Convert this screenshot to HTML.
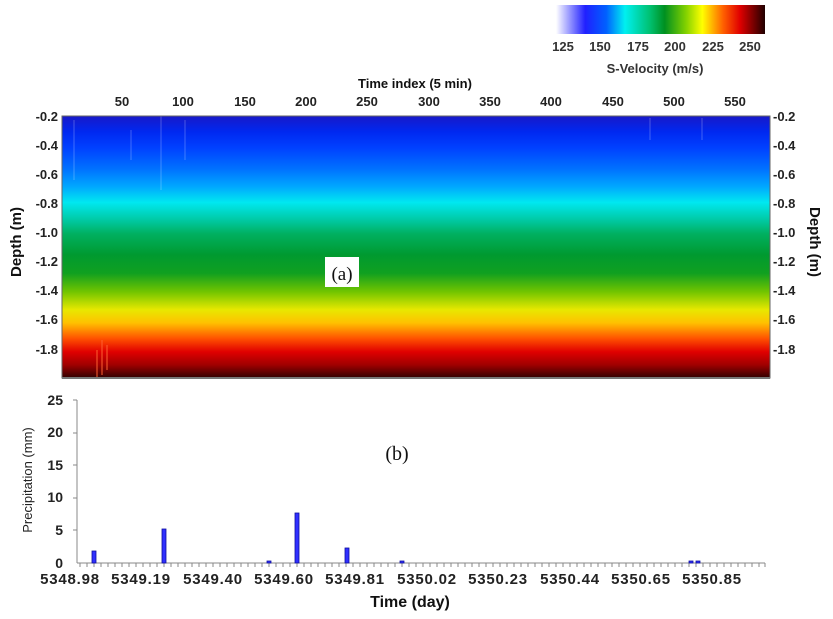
<!DOCTYPE html>
<html><head><meta charset="utf-8"><style>
body{margin:0;background:#fff;}
svg text{font-family:"Liberation Sans",Arial,sans-serif;}
</style></head><body>
<svg width="833" height="614" viewBox="0 0 833 614" xmlns="http://www.w3.org/2000/svg">
<defs>
<linearGradient id="cb" x1="0" y1="0" x2="1" y2="0">
<stop offset="0" stop-color="#ffffff"/>
<stop offset="0.14" stop-color="#2020ff"/>
<stop offset="0.24" stop-color="#0060ff"/>
<stop offset="0.33" stop-color="#00f0f0"/>
<stop offset="0.45" stop-color="#00c070"/>
<stop offset="0.52" stop-color="#009020"/>
<stop offset="0.62" stop-color="#80d000"/>
<stop offset="0.7" stop-color="#ffff00"/>
<stop offset="0.8" stop-color="#ff6000"/>
<stop offset="0.88" stop-color="#e00000"/>
<stop offset="1" stop-color="#200000"/>
</linearGradient>
<linearGradient id="hm" x1="0" y1="0" x2="0" y2="1">
<stop offset="0" stop-color="#1818c8"/>
<stop offset="0.06" stop-color="#0028f0"/>
<stop offset="0.12" stop-color="#0040ff"/>
<stop offset="0.2" stop-color="#0070ff"/>
<stop offset="0.27" stop-color="#00a8ff"/>
<stop offset="0.33" stop-color="#00e8f0"/>
<stop offset="0.4" stop-color="#00c8a0"/>
<stop offset="0.45" stop-color="#00b060"/>
<stop offset="0.53" stop-color="#009a30"/>
<stop offset="0.6" stop-color="#10a020"/>
<stop offset="0.67" stop-color="#70c400"/>
<stop offset="0.74" stop-color="#e8e800"/>
<stop offset="0.79" stop-color="#ffc000"/>
<stop offset="0.85" stop-color="#ff5000"/>
<stop offset="0.9" stop-color="#e00000"/>
<stop offset="0.95" stop-color="#a00000"/>
<stop offset="1" stop-color="#300000"/>
</linearGradient>
</defs>
<!-- colorbar -->
<rect x="556" y="5" width="209" height="29" fill="url(#cb)"/>
<g fill="#333" font-size="13" font-weight="bold" text-anchor="middle">
<text x="563" y="51">125</text><text x="600" y="51">150</text><text x="638" y="51">175</text>
<text x="675" y="51">200</text><text x="713" y="51">225</text><text x="750" y="51">250</text>
<text x="655" y="73">S-Velocity (m/s)</text>
</g>
<!-- heatmap -->
<text x="415" y="88" font-size="13" font-weight="bold" text-anchor="middle" fill="#111">Time index (5 min)</text>
<g fill="#222" font-size="13" font-weight="bold" text-anchor="middle">
<text x="122" y="106">50</text><text x="183" y="106">100</text><text x="245" y="106">150</text>
<text x="306" y="106">200</text><text x="367" y="106">250</text><text x="429" y="106">300</text>
<text x="490" y="106">350</text><text x="551" y="106">400</text><text x="613" y="106">450</text>
<text x="674" y="106">500</text><text x="735" y="106">550</text>
</g>
<rect x="62" y="116" width="708" height="262" fill="url(#hm)"/>
<g opacity="0.25" stroke="#fff" stroke-width="1">
<line x1="74" y1="120" x2="74" y2="180"/><line x1="131" y1="130" x2="131" y2="160"/>
<line x1="161" y1="116" x2="161" y2="190"/><line x1="185" y1="120" x2="185" y2="160"/>
<line x1="650" y1="118" x2="650" y2="140"/><line x1="702" y1="118" x2="702" y2="140"/>
</g>
<g stroke="#ff6030" stroke-width="2" opacity="0.5">
<line x1="97" y1="350" x2="97" y2="378"/><line x1="102" y1="340" x2="102" y2="375"/><line x1="107" y1="345" x2="107" y2="370"/>
</g>
<rect x="62" y="116" width="708" height="262" fill="none" stroke="#666" stroke-width="1"/>
<line x1="62" y1="378" x2="770" y2="378" stroke="#777" stroke-width="2"/>
<g fill="#222" font-size="13" font-weight="bold">
<g text-anchor="end">
<text x="58" y="121">-0.2</text><text x="58" y="150">-0.4</text><text x="58" y="179">-0.6</text>
<text x="58" y="208">-0.8</text><text x="58" y="237">-1.0</text><text x="58" y="266">-1.2</text>
<text x="58" y="295">-1.4</text><text x="58" y="324">-1.6</text><text x="58" y="354">-1.8</text>
</g>
<text x="773" y="121">-0.2</text><text x="773" y="150">-0.4</text><text x="773" y="179">-0.6</text>
<text x="773" y="208">-0.8</text><text x="773" y="237">-1.0</text><text x="773" y="266">-1.2</text>
<text x="773" y="295">-1.4</text><text x="773" y="324">-1.6</text><text x="773" y="354">-1.8</text>
</g>
<text transform="translate(21,242) rotate(-90)" font-size="15" font-weight="bold" text-anchor="middle" fill="#111">Depth (m)</text>
<text transform="translate(810,242) rotate(90)" font-size="15" font-weight="bold" text-anchor="middle" fill="#111">Depth (m)</text>
<rect x="325" y="257" width="34" height="30" fill="#fff"/>
<text x="342" y="280" font-size="19" text-anchor="middle" fill="#111" style="font-family:'Liberation Serif',serif">(a)</text>
<!-- precipitation -->
<line x1="77" y1="400" x2="77" y2="563" stroke="#888"/>
<line x1="77" y1="563" x2="765" y2="563" stroke="#888"/>
<g stroke="#888">
<line x1="73" y1="400" x2="77" y2="400"/><line x1="73" y1="433" x2="77" y2="433"/>
<line x1="73" y1="465" x2="77" y2="465"/><line x1="73" y1="498" x2="77" y2="498"/>
<line x1="73" y1="530" x2="77" y2="530"/>
</g>
<path stroke="#888" d="M80 563v4M87 563v4M94 563v4M101 563v4M108 563v4M115 563v4M122 563v4M129 563v4M136 563v4M143 563v4M150 563v4M157 563v4M164 563v4M171 563v4M178 563v4M185 563v4M192 563v4M199 563v4M206 563v4M213 563v4M220 563v4M227 563v4M234 563v4M241 563v4M248 563v4M255 563v4M262 563v4M269 563v4M276 563v4M283 563v4M290 563v4M297 563v4M304 563v4M311 563v4M318 563v4M325 563v4M332 563v4M339 563v4M346 563v4M353 563v4M360 563v4M367 563v4M374 563v4M381 563v4M388 563v4M395 563v4M402 563v4M409 563v4M416 563v4M423 563v4M430 563v4M437 563v4M444 563v4M451 563v4M458 563v4M465 563v4M472 563v4M479 563v4M486 563v4M493 563v4M500 563v4M507 563v4M514 563v4M521 563v4M528 563v4M535 563v4M542 563v4M549 563v4M556 563v4M563 563v4M570 563v4M577 563v4M584 563v4M591 563v4M598 563v4M605 563v4M612 563v4M619 563v4M626 563v4M633 563v4M640 563v4M647 563v4M654 563v4M661 563v4M668 563v4M675 563v4M682 563v4M689 563v4M696 563v4M703 563v4M710 563v4M717 563v4M724 563v4M731 563v4M738 563v4M745 563v4M752 563v4M759 563v4M765 563v4"/>
<g fill="#3030ff" stroke="#1010a0" stroke-width="0.8">
<rect x="92" y="551" width="4" height="12"/>
<rect x="162" y="529" width="4" height="34"/>
<rect x="267" y="561" width="4" height="2"/>
<rect x="295" y="513" width="4" height="50"/>
<rect x="345" y="548" width="4" height="15"/>
<rect x="400" y="561" width="4" height="2"/>
<rect x="689" y="561" width="4" height="2"/>
<rect x="696" y="561" width="4" height="2"/>
</g>
<g fill="#222" font-size="14" font-weight="bold" text-anchor="end">
<text x="63" y="405">25</text><text x="63" y="437">20</text><text x="63" y="470">15</text>
<text x="63" y="502">10</text><text x="63" y="535">5</text><text x="63" y="568">0</text>
</g>
<text transform="translate(32,480) rotate(-90)" font-size="13" text-anchor="middle" fill="#222">Precipitation (mm)</text>
<text x="397" y="460" font-size="20" text-anchor="middle" fill="#111" style="font-family:'Liberation Serif',serif">(b)</text>
<g fill="#222" font-size="15" font-weight="bold" text-anchor="middle" letter-spacing="0.8">
<text x="70" y="584">5348.98</text><text x="141" y="584">5349.19</text><text x="213" y="584">5349.40</text>
<text x="284" y="584">5349.60</text><text x="355" y="584">5349.81</text><text x="427" y="584">5350.02</text>
<text x="498" y="584">5350.23</text><text x="570" y="584">5350.44</text><text x="641" y="584">5350.65</text>
<text x="712" y="584">5350.85</text>
</g>
<text x="410" y="607" font-size="16" font-weight="bold" text-anchor="middle" fill="#111">Time (day)</text>
</svg>
</body></html>
